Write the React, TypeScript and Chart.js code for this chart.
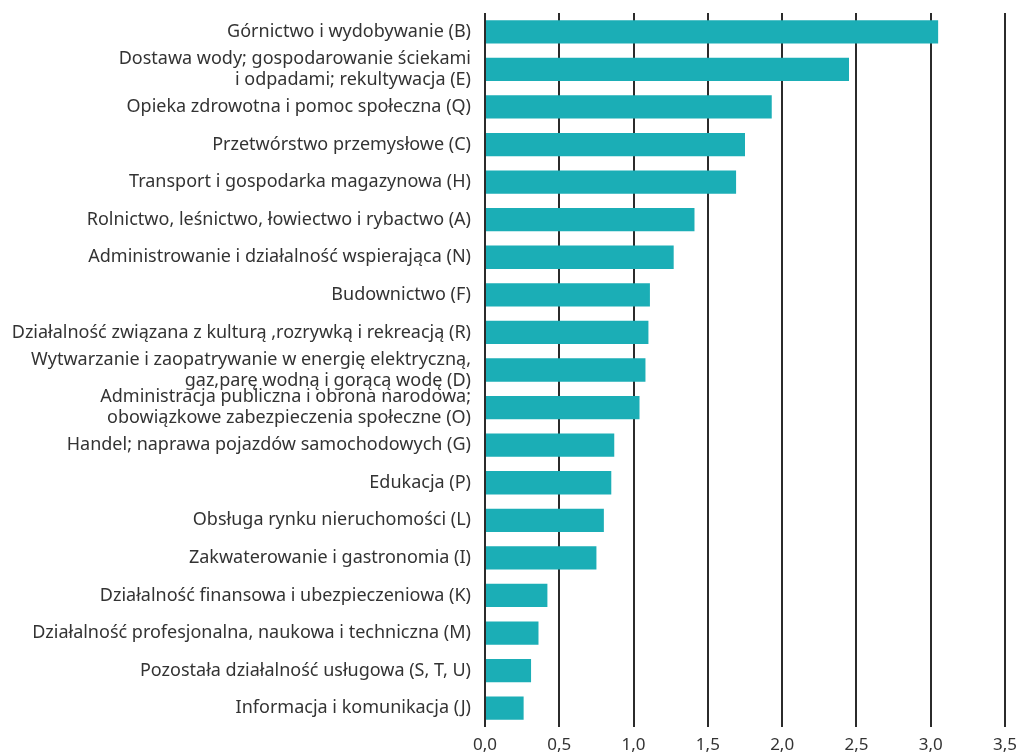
import React, { useEffect, useRef } from "react";
import { Chart, registerables } from "chart.js";

Chart.register(...registerables);

const categories: (string | string[])[] = [
  "Górnictwo i wydobywanie (B)",
  ["Dostawa wody; gospodarowanie ściekami", "i odpadami; rekultywacja (E)"],
  "Opieka zdrowotna i pomoc społeczna (Q)",
  "Przetwórstwo przemysłowe (C)",
  "Transport i gospodarka magazynowa (H)",
  "Rolnictwo, leśnictwo, łowiectwo i rybactwo (A)",
  "Administrowanie i działalność wspierająca (N)",
  "Budownictwo (F)",
  "Działalność związana z kulturą ,rozrywką i rekreacją (R)",
  ["Wytwarzanie i zaopatrywanie w energię elektryczną,", "gaz,parę wodną i gorącą wodę (D)"],
  ["Administracja publiczna i obrona narodowa;", "obowiązkowe zabezpieczenia społeczne (O)"],
  "Handel; naprawa pojazdów samochodowych (G)",
  "Edukacja (P)",
  "Obsługa rynku nieruchomości (L)",
  "Zakwaterowanie i gastronomia (I)",
  "Działalność finansowa i ubezpieczeniowa (K)",
  "Działalność profesjonalna, naukowa i techniczna (M)",
  "Pozostała działalność usługowa (S, T, U)",
  "Informacja i komunikacja (J)",
];

const values: number[] = [
  3.05, 2.45, 1.93, 1.75, 1.69, 1.41, 1.27, 1.11, 1.1, 1.08, 1.04, 0.87, 0.85,
  0.8, 0.75, 0.42, 0.36, 0.31, 0.26,
];

const xTicks: number[] = [0, 0.5, 1, 1.5, 2, 2.5, 3, 3.5];

export default function App() {
  const ref = useRef<HTMLCanvasElement | null>(null);

  useEffect(() => {
    document.body.style.margin = "0";
    const ctx = ref.current!;
    const chart = new Chart(ctx, {
      type: "bar",
      data: {
        labels: categories,
        datasets: [
          {
            data: values,
            backgroundColor: "#1baeb6",
            borderWidth: 0,
            barPercentage: 0.62,
            categoryPercentage: 1,
          },
        ],
      },
      options: {
        indexAxis: "y",
        animation: false,
        responsive: false,
        maintainAspectRatio: false,
        layout: { padding: { top: 13, right: 16, left: 0, bottom: 0 } },
        plugins: { legend: { display: false }, tooltip: { enabled: false } },
        scales: {
          x: {
            min: 0,
            max: 3.5,
            afterBuildTicks: (scale: any) => {
              scale.ticks = xTicks.map((v) => ({ value: v }));
            },
            afterFit: (scale: any) => {
              scale.height = 26;
              scale.paddingLeft = 0;
              scale.paddingRight = 0;
            },
            grid: {
              color: "#2b2b2b",
              lineWidth: 2,
              drawTicks: false,
            },
            border: { display: false },
            ticks: {
              padding: 8,
              color: "#333333",
              font: { family: "'Noto Sans', sans-serif", size: 17 },
              callback: (v: any) => Number(v).toFixed(1).replace(".", ","),
            },
          },
          y: {
            grid: { display: false },
            border: { display: false },
            afterFit: (scale: any) => {
              scale.width = 485;
              scale.paddingTop = 0;
              scale.paddingBottom = 0;
            },
            ticks: {
              padding: 6,
              color: "#333333",
              autoSkip: false,
              font: { family: "'Noto Sans', sans-serif", size: 18, lineHeight: 1.17 },
            },
          },
        },
      },
    });
    return () => chart.destroy();
  }, []);

  return (
    <div style={{ width: 1021, height: 753 }}>
      <canvas ref={ref} width={1021} height={753} style={{ display: "block" }} />
    </div>
  );
}
